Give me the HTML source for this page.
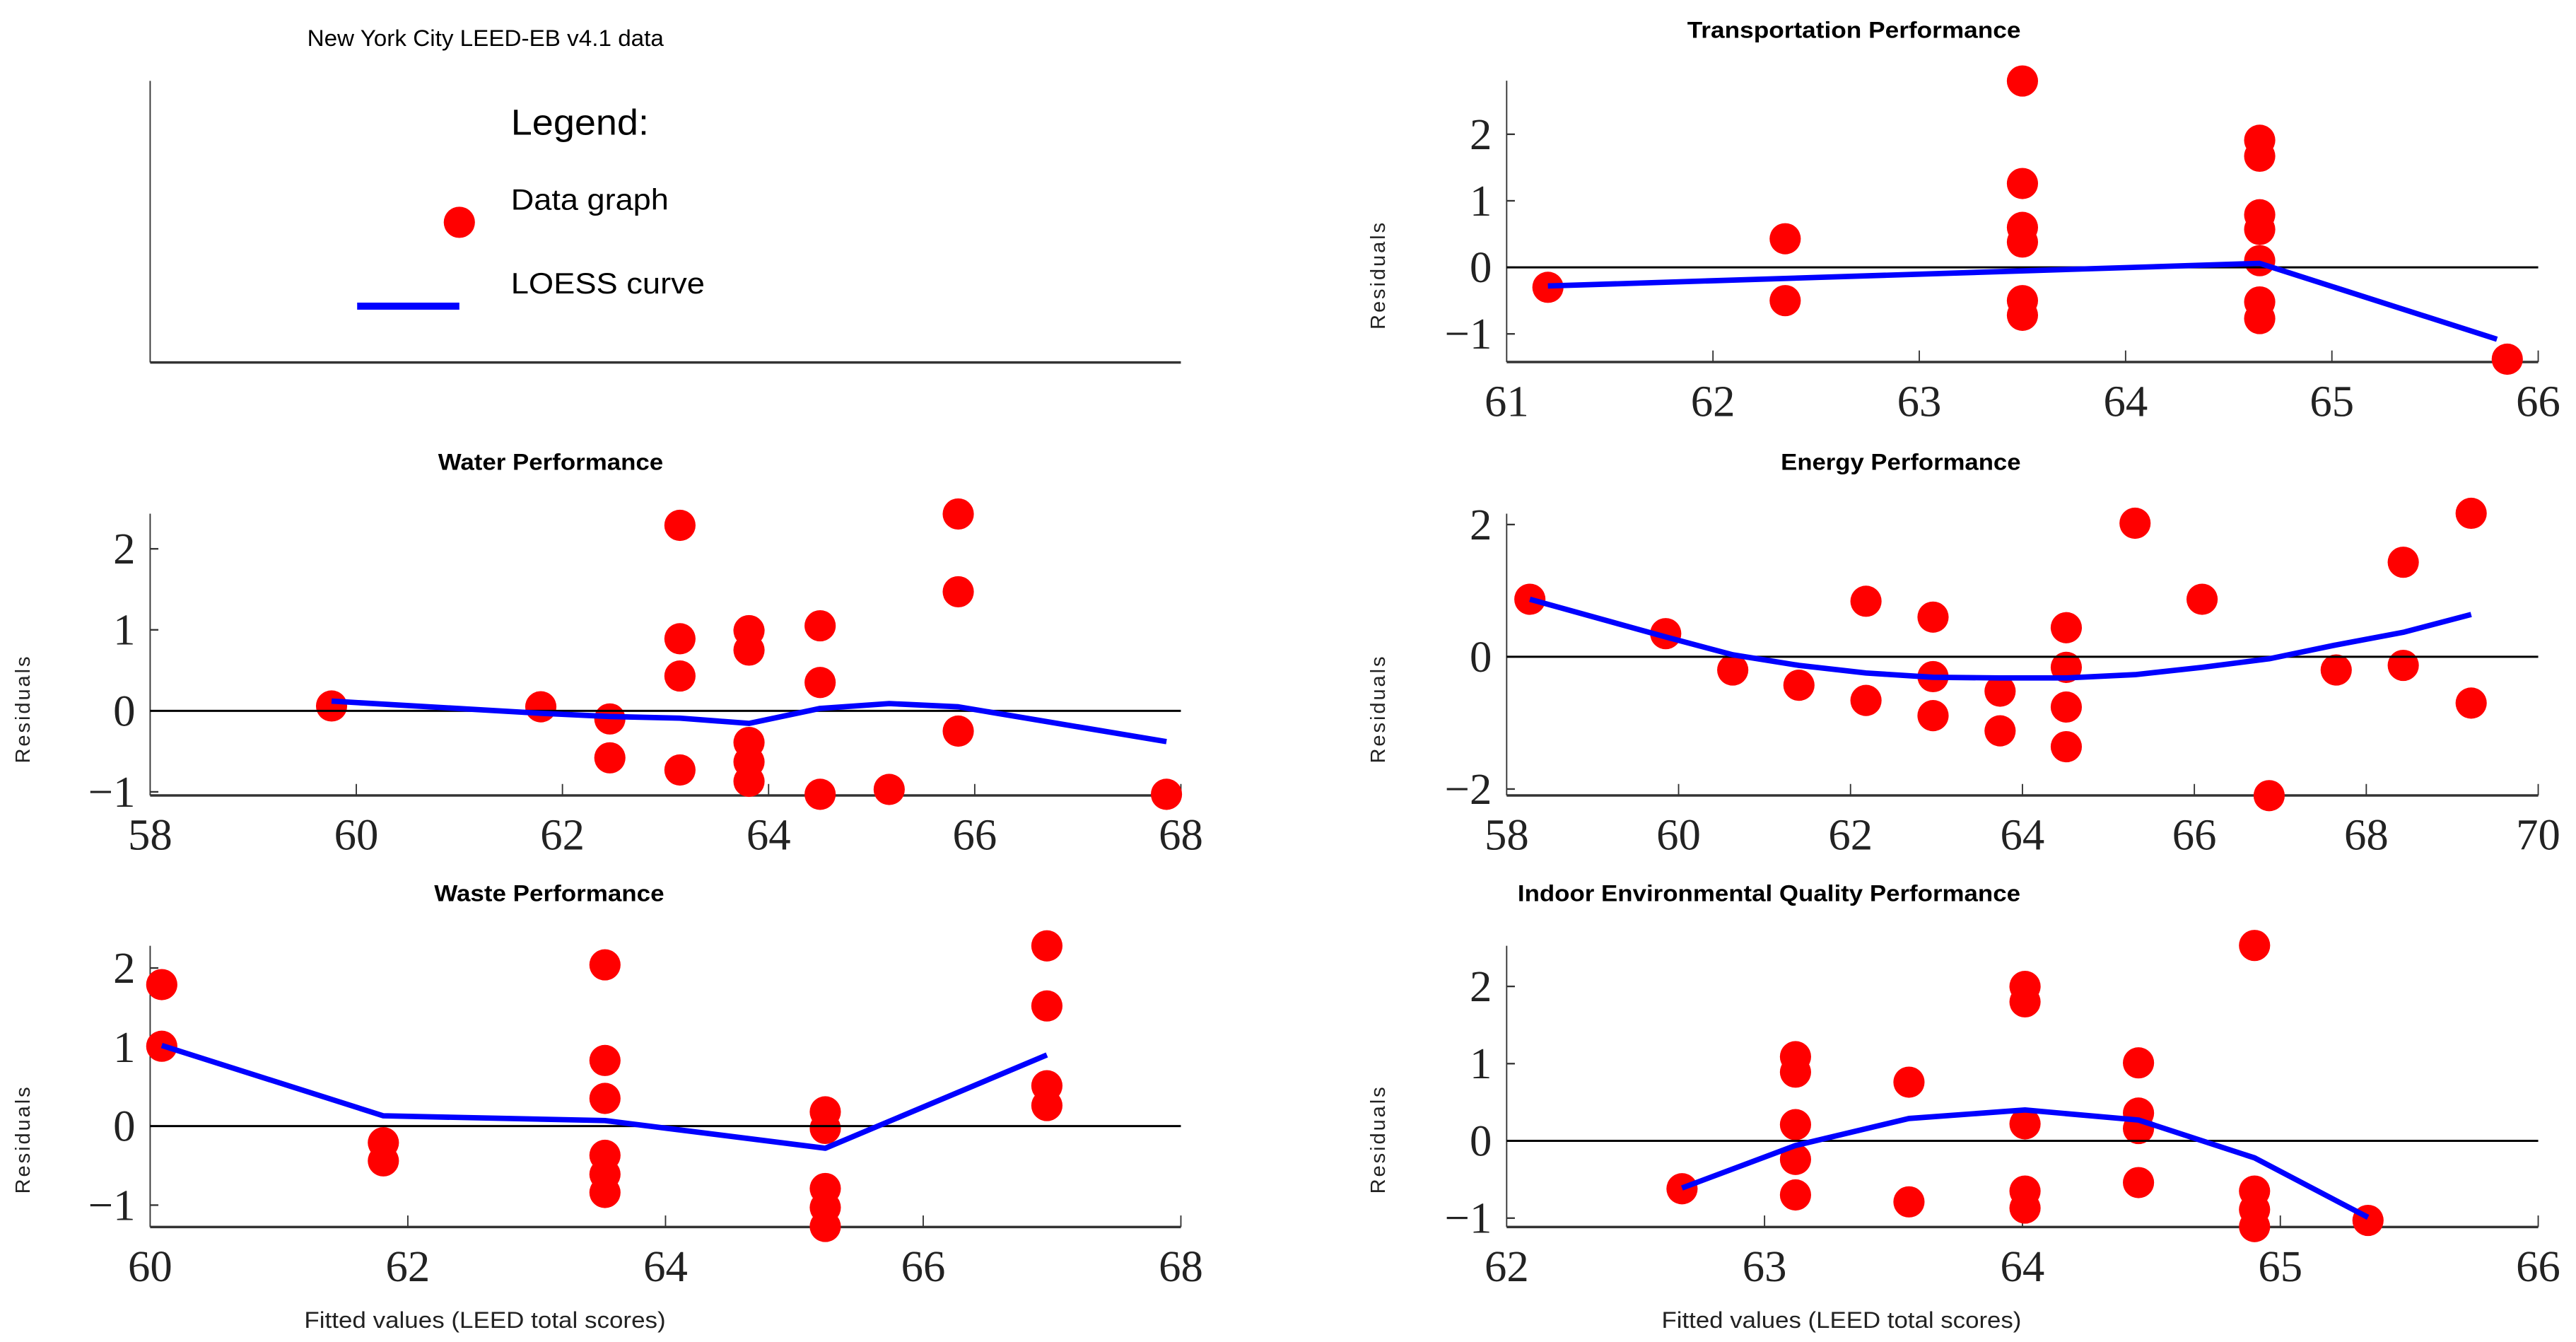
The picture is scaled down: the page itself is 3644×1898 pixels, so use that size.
<!DOCTYPE html>
<html><head><meta charset="utf-8"><style>
html,body{margin:0;padding:0;background:#fff;}
svg{display:block;}
</style></head><body>
<svg id="fig" xmlns="http://www.w3.org/2000/svg" width="3644" height="1898" viewBox="0 0 1568 816.7" preserveAspectRatio="none">
<rect x="0" y="0" width="1568" height="816.7" fill="#fff"/>
<g>
<text x="187" y="28" font-family="Liberation Sans, sans-serif" font-size="14" textLength="217" lengthAdjust="spacingAndGlyphs">New York City LEED-EB v4.1 data</text>
<line x1="91.4" y1="49.2" x2="91.4" y2="220.6" stroke="#333" stroke-width="0.8"/>
<line x1="91.4" y1="220.6" x2="718.8" y2="220.6" stroke="#333" stroke-width="1.5"/>
<text x="311" y="82" font-family="Liberation Sans, sans-serif" font-size="22" textLength="84" lengthAdjust="spacingAndGlyphs">Legend:</text>
<circle cx="279.6" cy="135.3" r="9.5" fill="#ff0000"/>
<text x="311" y="127.6" font-family="Liberation Sans, sans-serif" font-size="18" textLength="96" lengthAdjust="spacingAndGlyphs">Data graph</text>
<line x1="217.4" y1="186.3" x2="279.6" y2="186.3" stroke="#0000ff" stroke-width="4.3"/>
<text x="311" y="178.6" font-family="Liberation Sans, sans-serif" font-size="18" textLength="118" lengthAdjust="spacingAndGlyphs">LOESS curve</text>
</g>
</svg>
<script>
// ---- data ----
const transportX = [61.2, 62.35, 62.35, 63.5, 63.5, 63.5, 63.5, 63.5, 63.5, 64.65, 64.65, 64.65, 64.65, 64.65, 64.65, 64.65, 65.85];
const transportY = [-0.3, 0.43, -0.5, 2.8, 1.26, 0.6, 0.38, -0.5, -0.72, 1.91, 1.67, 0.79, 0.57, 0.1, -0.52, -0.77, -1.38];
const transportLoessX = [61.2, 64.65, 65.8];
const transportLoessY = [-0.28, 0.06, -1.08];

const waterX = [59.76, 61.79, 62.46, 62.46, 63.14, 63.14, 63.14, 63.14, 63.81, 63.81, 63.81, 63.81, 63.81, 64.5, 64.5, 64.5, 65.17, 65.84, 65.84, 65.84, 67.86];
const waterY = [0.06, 0.05, -0.1, -0.58, 2.29, 0.89, 0.43, -0.73, 0.99, 0.75, -0.39, -0.63, -0.87, 1.05, 0.35, -1.03, -0.97, 2.43, 1.47, -0.25, -1.03];
const waterLoessX = [59.76, 61.79, 62.46, 63.14, 63.81, 64.5, 65.17, 65.84, 67.86];
const waterLoessY = [0.12, -0.03, -0.07, -0.09, -0.155, 0.03, 0.09, 0.05, -0.38];

const energyX = [58.27, 59.85, 60.63, 61.4, 62.18, 62.18, 62.96, 62.96, 62.96, 63.74, 63.74, 64.51, 64.51, 64.51, 64.51, 65.31, 66.09, 66.87, 67.65, 68.43, 68.43, 69.22, 69.22];
const energyY = [0.87, 0.35, -0.2, -0.43, 0.84, -0.66, 0.6, -0.3, -0.89, -0.52, -1.12, 0.44, -0.16, -0.76, -1.36, 2.02, 0.87, -2.1, -0.2, 1.43, -0.13, 2.17, -0.7];
const energyLoessX = [58.27, 59.85, 60.63, 61.4, 62.18, 62.96, 63.74, 64.51, 65.31, 66.09, 66.87, 67.65, 68.43, 69.22];
const energyLoessY = [0.87, 0.3, 0.03, -0.13, -0.245, -0.31, -0.32, -0.32, -0.27, -0.16, -0.03, 0.18, 0.37, 0.64];

const wasteX = [60.09, 60.09, 61.81, 61.81, 63.53, 63.53, 63.53, 63.53, 63.53, 63.53, 65.24, 65.24, 65.24, 65.24, 65.24, 66.96, 66.96, 66.96, 66.96];
const wasteY = [1.79, 1.01, -0.21, -0.44, 2.04, 0.83, 0.35, -0.37, -0.61, -0.84, 0.18, -0.03, -0.79, -1.03, -1.27, 2.28, 1.52, 0.51, 0.26];
const wasteLoessX = [60.09, 61.81, 63.53, 65.24, 66.96];
const wasteLoessY = [1.02, 0.13, 0.07, -0.28, 0.9];

const ieqX = [62.68, 63.12, 63.12, 63.12, 63.12, 63.12, 63.56, 63.56, 64.01, 64.01, 64.01, 64.01, 64.01, 64.45, 64.45, 64.45, 64.45, 64.9, 64.9, 64.9, 64.9, 65.34];
const ieqY = [-0.62, 1.09, 0.89, 0.21, -0.24, -0.7, 0.76, -0.79, 2.0, 1.8, 0.22, -0.65, -0.87, 1.01, 0.36, 0.16, -0.54, 2.53, -0.65, -0.89, -1.11, -1.03];
const ieqLoessX = [62.68, 63.12, 63.56, 64.01, 64.45, 64.9, 65.34];
const ieqLoessY = [-0.61, -0.06, 0.29, 0.4, 0.27, -0.22, -0.99];

const transportXTicks = [61, 62, 63, 64, 65, 66];
const waterXTicks = [58, 60, 62, 64, 66, 68];
const energyXTicks = [58, 60, 62, 64, 66, 68, 70];
const wasteXTicks = [60, 62, 64, 66, 68];
const ieqXTicks = [62, 63, 64, 65, 66];
const transportYTicks = [-1, 0, 1, 2];
const waterYTicks = [-1, 0, 1, 2];
const energyYTicks = [-2, 0, 2];
const wasteYTicks = [-1, 0, 1, 2];
const ieqYTicks = [-1, 0, 1, 2];

const NS = 'http://www.w3.org/2000/svg';
const svg = document.getElementById('fig');
function mk(tag, attrs, parent) {
  const e = document.createElementNS(NS, tag);
  for (const k in attrs) e.setAttribute(k, attrs[k]);
  parent.appendChild(e);
  return e;
}
function fmt(v) { return v < 0 ? '\u2212' + Math.abs(v) : String(v); }

function drawPanel(p) {
  const g = mk('g', {}, svg);
  
  
  const sx = v => p.L + (v - p.xmin) / (p.xmax - p.xmin) * (p.R - p.L);
  const sy = v => p.y0 - v * p.k;

  const t = mk('text', {x: p.titleX, y: p.titleY, 'font-family': 'Liberation Sans, sans-serif', 'font-weight': 'bold', 'font-size': 14, textLength: p.titleW, lengthAdjust: 'spacingAndGlyphs'}, g);
  t.textContent = p.title;
  
  

  const la = mk('line', {x1: p.L, y1: p.top, x2: p.L, y2: p.bot, stroke: '#333', 'stroke-width': 0.8}, g);
  
  
  const ba = mk('line', {x1: p.L, y1: p.bot, x2: p.R, y2: p.bot, stroke: '#333', 'stroke-width': 1.5}, g);
  
  

  p.xt.forEach(v => {
    const x = sx(v);
    if (Math.abs(x - p.L) > 1) {
      const tk = mk('line', {x1: x, y1: p.bot, x2: x, y2: p.bot - 7, stroke: '#333', 'stroke-width': 0.8}, g);
      
      
    }
    const tl = mk('text', {x: x, y: p.bot + 33, 'text-anchor': 'middle', 'font-family': 'Liberation Serif, serif', 'font-size': 27, fill: '#222'}, g);
    tl.textContent = fmt(v);
    
    
  });
  p.yt.forEach(v => {
    const y = sy(v);
    const tk = mk('line', {x1: p.L, y1: y, x2: p.L + 5, y2: y, stroke: '#333', 'stroke-width': 1}, g);
    
    
    const tl = mk('text', {x: p.L - 9, y: y + 9, 'text-anchor': 'end', 'font-family': 'Liberation Serif, serif', 'font-size': 27, fill: '#222'}, g);
    tl.textContent = fmt(v);
    
    
  });

  const yl = mk('text', {x: 0, y: 0, transform: 'translate(' + p.ylx + ',' + p.yly + ') rotate(-90)', 'text-anchor': 'middle', 'font-family': 'Liberation Sans, sans-serif', 'font-size': 12.5, fill: '#222', textLength: 65, lengthAdjust: 'spacing'}, g);
  yl.textContent = 'Residuals';
  
  

  if (p.xlab) {
    const xl = mk('text', {x: p.xlab[0], y: p.xlab[1], 'font-family': 'Liberation Sans, sans-serif', 'font-size': 14, fill: '#222', textLength: p.xlab[2], lengthAdjust: 'spacingAndGlyphs'}, g);
    xl.textContent = 'Fitted values (LEED total scores)';
    
    
  }

  p.xs.forEach((v, i) => {
    const c = mk('circle', {cx: sx(v), cy: sy(p.ys[i]), r: 9.5, fill: '#ff0000'}, g);
    
    
  });

  const z = mk('line', {x1: p.L, y1: sy(0), x2: p.R, y2: sy(0), stroke: '#000', 'stroke-width': 1.3}, g);
  
  

  const pts = p.lx.map((v, i) => sx(v).toFixed(2) + ',' + sy(p.ly[i]).toFixed(2)).join(' ');
  const pl = mk('polyline', {points: pts, fill: 'none', stroke: '#0000ff', 'stroke-width': 3.3, 'stroke-linejoin': 'round'}, g);
  
  
}

drawPanel({name: 'transportation', title: 'Transportation Performance', titleX: 1027, titleY: 23, titleW: 203,
  L: 917.1, R: 1545, xmin: 61, xmax: 66, y0: 162.7, k: 40.5, top: 49.1, bot: 220.3,
  xt: transportXTicks, yt: transportYTicks, ylx: 843, yly: 168,
  xs: transportX, ys: transportY, lx: transportLoessX, ly: transportLoessY});
drawPanel({name: 'water', title: 'Water Performance', titleX: 266.7, titleY: 286, titleW: 137,
  L: 91.4, R: 718.8, xmin: 58, xmax: 68, y0: 432.6, k: 49.3, top: 312.6, bot: 484.1,
  xt: waterXTicks, yt: waterYTicks, ylx: 18, yly: 432,
  xs: waterX, ys: waterY, lx: waterLoessX, ly: waterLoessY});
drawPanel({name: 'energy', title: 'Energy Performance', titleX: 1084, titleY: 286, titleW: 146,
  L: 917.1, R: 1545, xmin: 58, xmax: 70, y0: 399.7, k: 40.24, top: 312.6, bot: 484.1,
  xt: energyXTicks, yt: energyYTicks, ylx: 843, yly: 432,
  xs: energyX, ys: energyY, lx: energyLoessX, ly: energyLoessY});
drawPanel({name: 'waste', title: 'Waste Performance', titleX: 264.3, titleY: 548.5, titleW: 140,
  L: 91.4, R: 718.8, xmin: 60, xmax: 68, y0: 685.3, k: 48.1, top: 575.6, bot: 746.7,
  xt: wasteXTicks, yt: wasteYTicks, ylx: 18, yly: 694,
  xs: wasteX, ys: wasteY, lx: wasteLoessX, ly: wasteLoessY, xlab: [185.2, 808, 220]});
drawPanel({name: 'indoor-environmental-quality', title: 'Indoor Environmental Quality Performance', titleX: 923.8, titleY: 548.5, titleW: 306,
  L: 917.1, R: 1545, xmin: 62, xmax: 66, y0: 694.3, k: 47.0, top: 575.6, bot: 746.7,
  xt: ieqXTicks, yt: ieqYTicks, ylx: 843, yly: 694,
  xs: ieqX, ys: ieqY, lx: ieqLoessX, ly: ieqLoessY, xlab: [1011.4, 808, 219]});
</script>
</body></html>
